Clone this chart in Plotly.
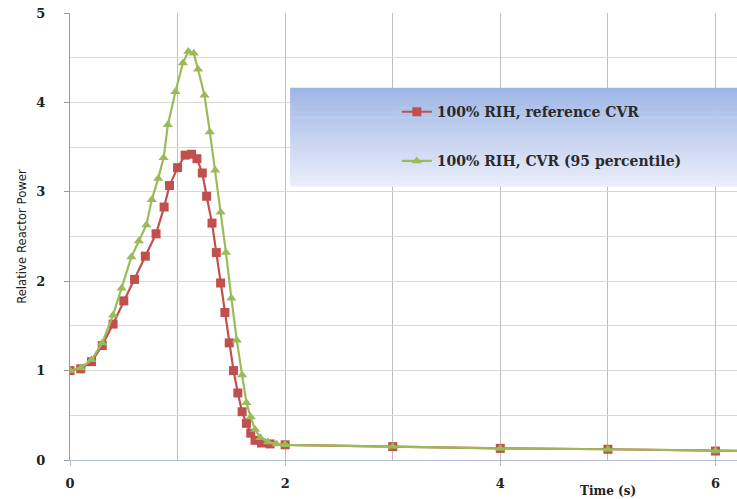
import plotly.graph_objects as go

# ---- data ----
time_ref = [0, 0.1, 0.2, 0.3, 0.4, 0.5, 0.6, 0.7, 0.8, 0.875, 0.925, 1.0, 1.07, 1.13,
            1.18, 1.23, 1.27, 1.32, 1.36, 1.40, 1.44, 1.48, 1.52, 1.56, 1.60, 1.64,
            1.68, 1.72, 1.78, 1.86, 2.0, 3.0, 4.0, 5.0, 6.0, 7.0]
power_ref = [1.0, 1.02, 1.1, 1.28, 1.52, 1.78, 2.02, 2.28, 2.53, 2.83, 3.07, 3.27, 3.41, 3.42,
             3.37, 3.21, 2.95, 2.65, 2.32, 1.98, 1.65, 1.31, 1.0, 0.75, 0.54, 0.41,
             0.30, 0.22, 0.19, 0.18, 0.17, 0.15, 0.13, 0.12, 0.10, 0.09]

time_cvr = [0, 0.1, 0.2, 0.3, 0.4, 0.48, 0.57, 0.64, 0.71, 0.76, 0.82, 0.87, 0.91, 0.98,
            1.05, 1.1, 1.15, 1.19, 1.25, 1.3, 1.35, 1.4, 1.45, 1.5, 1.55, 1.6, 1.64,
            1.68, 1.72, 1.77, 1.84, 1.92, 2.0, 3.0, 4.0, 5.0, 6.0, 7.0]
power_cvr = [1.0, 1.03, 1.12, 1.31, 1.62, 1.92, 2.27, 2.45, 2.63, 2.91, 3.15, 3.38, 3.75, 4.12,
             4.44, 4.57, 4.55, 4.37, 4.08, 3.67, 3.24, 2.77, 2.32, 1.81, 1.34, 0.95, 0.64,
             0.48, 0.34, 0.25, 0.20, 0.18, 0.17, 0.15, 0.13, 0.12, 0.10, 0.09]

name_ref = "100% RIH, reference CVR"
name_cvr = "100% RIH, CVR (95 percentile)"
x_title = "Time (s)"
y_title = "Relative Reactor Power"

RED = "#c0504d"
GREEN = "#9bbb59"
SERIF = "DejaVu Serif, Liberation Serif, serif"

fig = go.Figure()
fig.add_trace(go.Scatter(
    x=time_ref, y=power_ref, mode="lines+markers", name=name_ref, legendgroup="a",
    line=dict(color=RED, width=2.2),
    marker=dict(symbol="square", size=9, color=RED)))
fig.add_trace(go.Scatter(
    x=time_cvr, y=power_cvr, mode="lines+markers", name=name_cvr, legendgroup="b",
    line=dict(color=GREEN, width=2.2),
    marker=dict(symbol="triangle-up", size=9, color=GREEN)))

# gradient background of the legend box (decoration)
bx0, bx1, by0, by1 = 0.33, 1.0, 0.613, 0.833
top = (158, 182, 230)
bot = (234, 237, 249)
n = 40
shapes = []
for i in range(n):
    f = i / (n - 1)
    c = tuple(int(round(top[k] + (bot[k] - top[k]) * f)) for k in range(3))
    y_hi = by1 - (by1 - by0) * i / n
    y_lo = by1 - (by1 - by0) * (i + 1) / n
    shapes.append(dict(type="rect", xref="paper", yref="paper", x0=bx0, x1=bx1,
                       y0=y_lo - 0.001, y1=y_hi, line=dict(width=0),
                       fillcolor="rgb(%d,%d,%d)" % c, layer="above"))

fig.update_layout(
    width=737, height=499,
    margin=dict(l=70, r=0, t=13, b=39),
    paper_bgcolor="white", plot_bgcolor="white",
    shapes=shapes,
    showlegend=True,
    legend=dict(x=0.49, y=0.814, xanchor="left", yanchor="top",
                bgcolor="rgba(0,0,0,0)", borderwidth=0,
                font=dict(family=SERIF, size=14, color="#2a2a2a", weight="bold"),
                tracegroupgap=28, itemwidth=30),
    xaxis=dict(range=[0, 6.2], tickmode="linear", tick0=0, dtick=2,
               showgrid=True, gridcolor="#bdbdbd", gridwidth=1,
               minor=dict(dtick=1, showgrid=True, gridcolor="#bdbdbd", gridwidth=1),
               showline=True, linecolor="#b4bcd4", linewidth=1,
               ticks="outside", ticklen=5, tickcolor="#b4bcd4",
               zeroline=False, ticklabelstandoff=6,
               tickfont=dict(family=SERIF, size=13, color="#222222", weight="bold")),
    yaxis=dict(range=[0, 5], tickmode="linear", tick0=0, dtick=1,
               showgrid=True, gridcolor="#d9d9d9", gridwidth=1,
               minor=dict(dtick=0.5, showgrid=True, gridcolor="#d9d9d9", gridwidth=1),
               showline=True, linecolor="#9a9a9a", linewidth=1,
               ticks="outside", ticklen=5, tickcolor="#9a9a9a",
               zeroline=False, ticklabelstandoff=16,
               tickfont=dict(family=SERIF, size=13, color="#222222", weight="bold"),
               title=dict(text=y_title, standoff=6,
                          font=dict(family="Liberation Sans Narrow, DejaVu Sans Condensed, sans-serif",
                                    size=13, color="#222222"))),
    annotations=[dict(text=x_title, xref="paper", yref="paper", x=0.807, y=-0.07,
                      xanchor="center", yanchor="middle", showarrow=False,
                      font=dict(family=SERIF, size=12, color="#222222", weight="bold"))],
)

fig.write_html("out.html")
